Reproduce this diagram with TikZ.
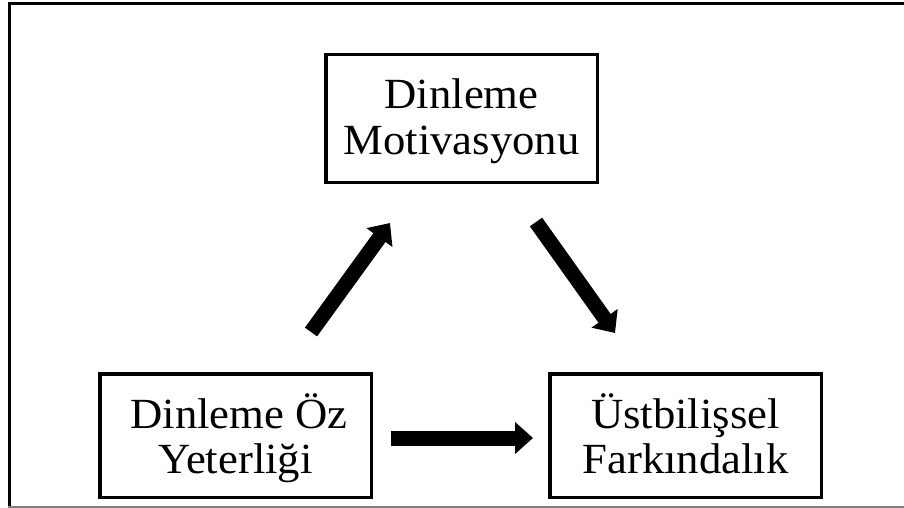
\documentclass[tikz,border=0pt]{standalone}
\usepackage{fontspec}
\setmainfont[FakeStretch=1.04]{Liberation Serif}
\usetikzlibrary{arrows.meta}
\begin{document}
\begin{tikzpicture}[x=1pt,y=-1pt,
  box/.style={draw, line width=3.5pt, minimum width=271.5pt, minimum height=127.5pt, inner sep=0pt},
  txt/.style={anchor=base, font=\fontsize{43}{45}\selectfont, inner sep=0pt},
  blockarrow/.style={line width=15pt, -{Triangle[width=31pt,length=18pt]}},
]
\useasboundingbox (0,0) rectangle (904,508);
% outer frame
\draw[line width=3pt] (9.5,508) -- (9.5,3.5) -- (904,3.5);
\draw[gray, line width=1.5pt] (8,507) -- (904,507);
% boxes
\node[box] (mot) at (461.5,118.5) {};
\node[box, minimum height=123.5pt] (oz) at (235.5,435.5) {};
\node[box, minimum height=123.5pt] (ust) at (685.5,435.5) {};
% texts
\node[txt] (mot1) at (461.5,109) {Dinleme};
\node[txt] (mot2) at (461.5,154) {Motivasyonu};
\node[txt] (oz1) at (239,428) {Dinleme Öz};
\node[txt] (oz2) at (235.5,473) {Yeterliği};
\node[txt] (ust1) at (685.5,428) {Üstbilişsel};
\node[txt] (ust2) at (685.5,473) {Farkındalık};
% arrow end points
\coordinate (a1s) at (311,332);
\coordinate (a1e) at (390,223);
\coordinate (a2s) at (536,222);
\coordinate (a2e) at (615,333);
\coordinate (a3s) at (391,438);
\coordinate (a3e) at (533,438);
\draw[blockarrow] (a1s) -- (a1e);
\draw[blockarrow] (a2s) -- (a2e);
\draw[blockarrow] (a3s) -- (a3e);
\end{tikzpicture}
\end{document}
